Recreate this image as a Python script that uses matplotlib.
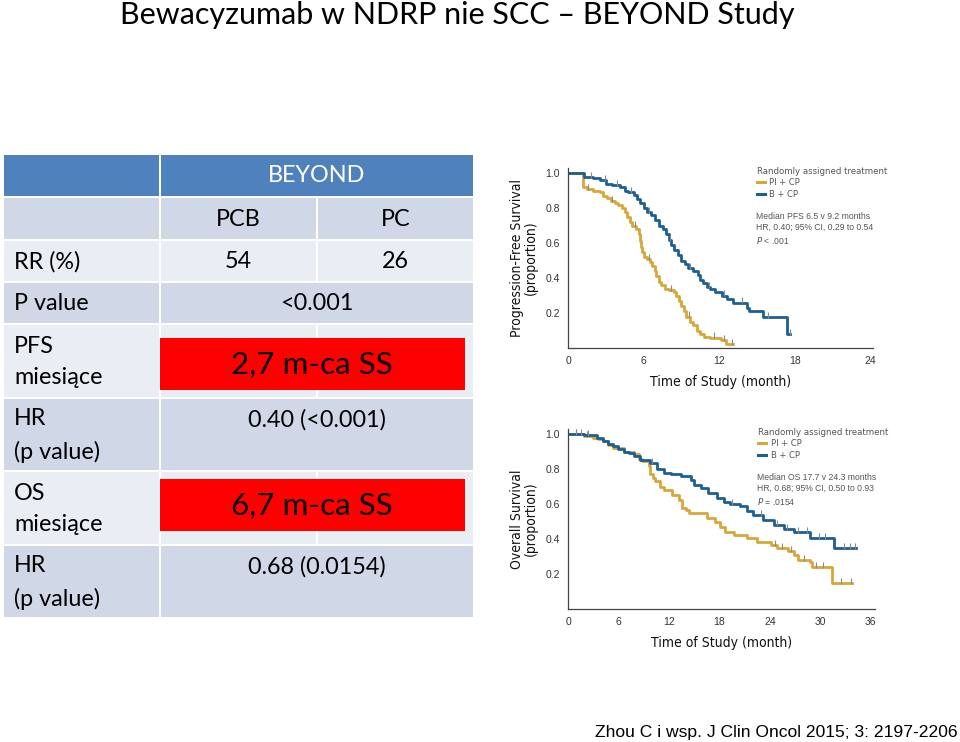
import numpy as np
import matplotlib
matplotlib.use("Agg")
import matplotlib.pyplot as plt
from matplotlib.patches import Rectangle
from matplotlib.lines import Line2D

# --- slide text ---
title = "Bewacyzumab w NDRP nie SCC \u2013 BEYOND Study"
source = "Zhou C i wsp. J Clin Oncol 2015; 3: 2197-2206"

# --- table content ---
study = "BEYOND"
arms = ["PCB", "PC"]
row_labels = ["RR (%)", "P value", "PFS\nmiesi\u0105ce", "HR\n(p value)", "OS\nmiesi\u0105ce", "HR\n(p value)"]
rr_values = ["54", "26"]
p_value = "<0.001"
pfs_gain = "2,7 m-ca SS"
pfs_hr = "0.40 (<0.001)"
os_gain = "6,7 m-ca SS"
os_hr = "0.68 (0.0154)"

# --- Kaplan-Meier curves (months, proportion) ---
pfs_pi_t = [0, 1.2, 1.5, 2.0, 2.5, 2.8, 3.1, 3.4, 3.7, 4.0, 4.3, 4.5, 4.7, 4.9, 5.1, 5.4, 5.6, 5.7, 5.8,
            5.9, 6.0, 6.3, 6.5, 6.7, 6.9, 7.0, 7.2, 7.4, 7.7, 8.0, 8.4, 8.6, 8.8, 9.0, 9.2, 9.4, 9.7,
            9.9, 10.2, 10.5, 10.8, 11.3, 12.1, 12.5, 13.1]
pfs_pi_s = [1.0, 0.92, 0.91, 0.90, 0.89, 0.87, 0.86, 0.84, 0.83, 0.82, 0.80, 0.78, 0.75, 0.72, 0.70, 0.68,
            0.65, 0.61, 0.58, 0.55, 0.52, 0.51, 0.49, 0.47, 0.44, 0.41, 0.38, 0.36, 0.34, 0.33, 0.32, 0.30,
            0.27, 0.24, 0.21, 0.18, 0.15, 0.13, 0.10, 0.08, 0.065, 0.06, 0.045, 0.025, 0.025]
pfs_b_t = [0, 1.3, 2.0, 2.5, 3.0, 3.5, 4.1, 4.5, 4.8, 5.2, 5.5, 5.7, 6.0, 6.3, 6.6, 6.9, 7.2, 7.5, 7.8,
           8.0, 8.2, 8.4, 8.7, 9.0, 9.3, 9.5, 9.9, 10.3, 10.5, 10.7, 11.0, 11.3, 11.7, 12.2, 12.6, 13.1,
           14.2, 14.4, 15.5, 17.4, 17.6]
pfs_b_s = [1.0, 0.98, 0.97, 0.96, 0.94, 0.93, 0.92, 0.90, 0.89, 0.875, 0.85, 0.83, 0.80, 0.78, 0.76, 0.73,
           0.70, 0.68, 0.65, 0.62, 0.59, 0.56, 0.53, 0.50, 0.48, 0.46, 0.44, 0.415, 0.39, 0.37, 0.35, 0.335,
           0.32, 0.30, 0.28, 0.26, 0.23, 0.21, 0.175, 0.08, 0.08]
pfs_pi_cens = [1.6, 3.5, 5.3, 6.4, 8.2, 9.6, 11.6, 12.4, 13.0]
pfs_b_cens = [1.8, 2.9, 3.9, 5.0, 6.4, 8.1, 9.7, 11.2, 12.4, 13.8, 15.9, 17.6]

os_pi_t = [0, 1.9, 3.0, 3.6, 4.2, 4.8, 5.4, 6.6, 7.8, 8.4, 8.8, 9.6, 9.8, 10.1, 10.4, 10.9, 11.4, 12.4,
           13.2, 13.6, 14.0, 14.4, 16.5, 17.5, 18.1, 18.7, 19.7, 21.3, 22.5, 24.1, 24.9, 26.1, 26.9,
           27.3, 28.8, 29.0, 31.4, 33.8]
os_pi_s = [1.0, 0.99, 0.98, 0.97, 0.96, 0.94, 0.92, 0.90, 0.885, 0.86, 0.845, 0.82, 0.77, 0.75, 0.73,
           0.70, 0.68, 0.655, 0.625, 0.58, 0.565, 0.55, 0.52, 0.50, 0.47, 0.44, 0.425, 0.405, 0.385,
           0.365, 0.35, 0.33, 0.31, 0.28, 0.27, 0.24, 0.146, 0.146]
os_b_t = [0, 1.9, 3.5, 4.2, 4.8, 5.4, 6.0, 6.6, 7.2, 7.8, 8.6, 9.8, 10.6, 11.4, 12.2, 13.4, 14.6, 15.0,
          15.8, 16.7, 17.7, 18.5, 19.3, 20.5, 21.3, 22.0, 23.2, 24.5, 25.7, 26.9, 28.8, 31.6, 34.2]
os_b_s = [1.0, 0.995, 0.98, 0.96, 0.945, 0.93, 0.915, 0.90, 0.89, 0.875, 0.855, 0.835, 0.80, 0.78, 0.77,
          0.76, 0.74, 0.71, 0.69, 0.665, 0.635, 0.615, 0.60, 0.59, 0.56, 0.54, 0.51, 0.48, 0.46, 0.44,
          0.405, 0.35, 0.35]
os_pi_cens = [1.0, 2.2, 24.6, 25.5, 26.5, 28.0, 29.5, 30.3, 32.5, 33.6]
os_b_cens = [1.0, 1.6, 2.4, 10.0, 19.5, 23.0, 24.8, 26.0, 27.4, 28.4, 29.8, 30.6, 32.8, 33.5, 34.1]

pfs_note = ["Median PFS 6.5 v 9.2 months", "HR, 0.40; 95% CI, 0.29 to 0.54", "$P$ < .001"]
os_note = ["Median OS 17.7 v 24.3 months", "HR, 0.68; 95% CI, 0.50 to 0.93", "$P$ = .0154"]

GOLD = "#D6A83A"
BLUE = "#1E5F93"
HEAD = "#4F81BD"
DARK = "#D0D8E8"
LIGHT = "#E9EDF4"
SLIDE_FONT = ["Lato", "DejaVu Sans"]
FIG_FONT = ["Liberation Sans", "DejaVu Sans"]
AXIS_FONT = ["DejaVu Sans"]

W, H = 960, 742
fig = plt.figure(figsize=(9.6, 7.42), dpi=100)

# overlay in pixel coordinates for the slide parts
bg = fig.add_axes([0, 0, 1, 1])
bg.set_xlim(0, W)
bg.set_ylim(H, 0)
bg.axis("off")

bg.text(457, 15, title, ha="center", va="center", fontsize=22, family=SLIDE_FONT)
bg.text(958, 732, source, ha="right", va="center", fontsize=12.6, family=FIG_FONT)

cols = [(4, 159), (161, 316), (318, 473)]
rows = [(155, 196), (198, 239), (241, 281), (283, 323), (325, 397), (399, 470), (472, 544), (546, 617)]
merged = [True, False, False, True, False, True, False, True]
shade = [HEAD, DARK, LIGHT, DARK, LIGHT, DARK, LIGHT, DARK]

for (y0, y1), m, c in zip(rows, merged, shade):
    bg.add_patch(Rectangle((cols[0][0], y0), cols[0][1] - cols[0][0], y1 - y0, color=c, lw=0))
    if m:
        bg.add_patch(Rectangle((cols[1][0], y0), cols[2][1] - cols[1][0], y1 - y0, color=c, lw=0))
    else:
        for x0, x1 in cols[1:]:
            bg.add_patch(Rectangle((x0, y0), x1 - x0, y1 - y0, color=c, lw=0))

fs = 16.8
mid = (cols[1][0] + cols[2][1]) / 2
cx = [(a + b) / 2 for a, b in cols]

bg.text(mid, 176, study, ha="center", va="center", color="white", fontsize=fs, family=SLIDE_FONT)
for x, a in zip(cx[1:], arms):
    bg.text(x, 219, a, ha="center", va="center", fontsize=fs, family=SLIDE_FONT)

for (y0, y1), lab in zip(rows[2:], row_labels):
    bg.text(14, (y0 + y1) / 2 + 1, lab, ha="left", va="center", fontsize=fs, family=SLIDE_FONT,
            linespacing=1.62)

for x, v in zip(cx[1:], rr_values):
    bg.text(x, 262, v, ha="center", va="center", fontsize=fs, family=SLIDE_FONT)
bg.text(mid, 304, p_value, ha="center", va="center", fontsize=fs, family=SLIDE_FONT)

# red highlight boxes
for (y0, y1), txt in [((338, 390), pfs_gain), ((479, 531), os_gain)]:
    bg.add_patch(Rectangle((160, y0), 305, y1 - y0, color="#FF0000", lw=0))
    bg.text(312, (y0 + y1) / 2 + 1, txt, ha="center", va="center", fontsize=22.6, family=SLIDE_FONT)

bg.text(mid, 420, pfs_hr, ha="center", va="center", fontsize=fs, family=SLIDE_FONT)
bg.text(mid, 567, os_hr, ha="center", va="center", fontsize=fs, family=SLIDE_FONT)


def at_times(t, s, c):
    idx = np.searchsorted(t, c, side="right") - 1
    return np.array(s)[idx]


def km_panel(rect, xmax, xticks, ylabel, series, note):
    ax = fig.add_axes(rect)
    for t, s, cens, col in series:
        ax.step(t, s, where="post", color=col, lw=2.0)
        ax.plot(cens, at_times(t, s, cens) + 0.012, ls="none", marker="|", ms=4, mew=0.8, color="#8a8a8a")
    ax.set_xlim(0, xmax)
    ax.set_ylim(0, 1.03)
    ax.set_xticks(xticks)
    ax.set_yticks([0.2, 0.4, 0.6, 0.8, 1.0])
    ax.set_yticklabels(["0.2", "0.4", "0.6", "0.8", "1.0"])
    for sp in ["top", "right"]:
        ax.spines[sp].set_visible(False)
    for sp in ["left", "bottom"]:
        ax.spines[sp].set_color("#444444")
        ax.spines[sp].set_linewidth(0.9)
    ax.tick_params(length=0, pad=6, labelsize=7.5, colors="#333333")
    for lab in ax.get_xticklabels() + ax.get_yticklabels():
        lab.set_family(FIG_FONT)
    ax.set_xlabel("Time of Study (month)", fontsize=10, family=AXIS_FONT, fontstretch="condensed",
                  labelpad=6, color="#111111")
    ax.set_ylabel(ylabel, fontsize=10, family=AXIS_FONT, fontstretch="condensed", labelpad=5,
                  linespacing=1.05, color="#111111")
    handles = [Line2D([], [], color=GOLD, lw=2.2), Line2D([], [], color=BLUE, lw=2.2)]
    leg = ax.legend(handles, ["PI + CP", "B + CP"], title="Randomly assigned treatment",
                    loc="upper left", bbox_to_anchor=(0.6, 1.04), frameon=False, fontsize=6,
                    title_fontsize=6.2, handlelength=1.0, handletextpad=0.5, labelspacing=0.3,
                    alignment="left", borderpad=0.2)
    leg.get_title().set_color("#555555")
    for tx in leg.get_texts():
        tx.set_color("#555555")
    ax.text(0.615, 0.755, "\n".join(note), transform=ax.transAxes, ha="left", va="top",
            fontsize=6.2, color="#555555", family=FIG_FONT, linespacing=1.3)
    return ax


km_panel([568 / W, 1 - 348 / H, 305 / W, 180 / H], 24.2, [0, 6, 12, 18, 24],
         "Progression-Free Survival\n(proportion)",
         [(pfs_pi_t, pfs_pi_s, pfs_pi_cens, GOLD), (pfs_b_t, pfs_b_s, pfs_b_cens, BLUE)], pfs_note)
km_panel([568 / W, 1 - 609 / H, 307 / W, 180 / H], 36.5, [0, 6, 12, 18, 24, 30, 36],
         "Overall Survival\n(proportion)",
         [(os_pi_t, os_pi_s, os_pi_cens, GOLD), (os_b_t, os_b_s, os_b_cens, BLUE)], os_note)

fig.savefig("out.png", dpi=100)
